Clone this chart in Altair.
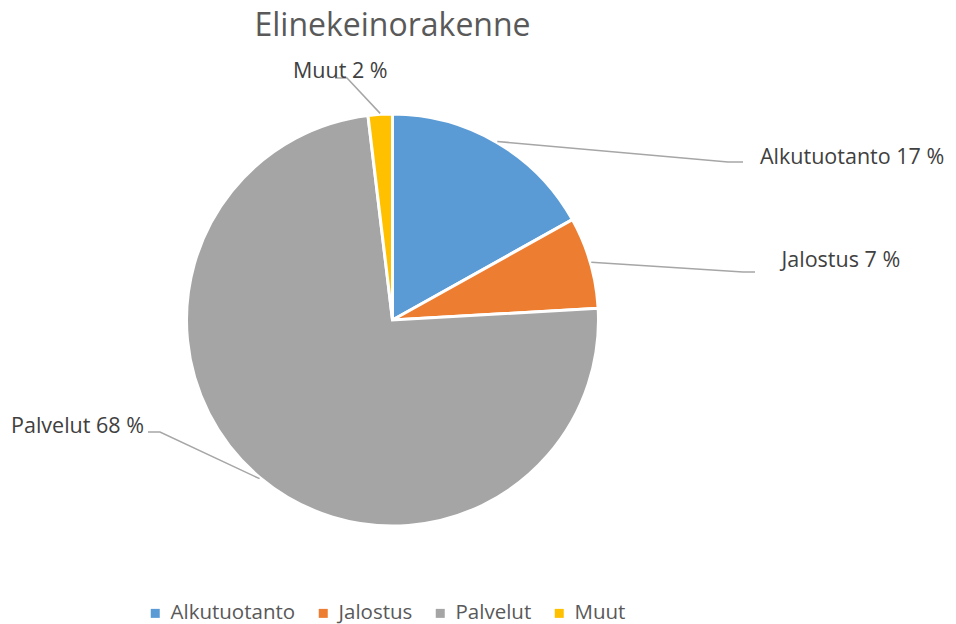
import math
import altair as alt
import pandas as pd

# ---- data ----
categories = ["Alkutuotanto", "Jalostus", "Palvelut", "Muut"]
shares = [16.9, 7.2, 74.0, 1.9]          # slice sizes as drawn (angles)
label_pct = [17, 7, 68, 2]               # percentages printed in the labels
colors = ["#5B9BD5", "#ED7D31", "#A5A5A5", "#FFC000"]
title_text = "Elinekeinorakenne"

# ---- layout (view pixel space) ----
W, H = 940, 608
CX, CY, R = 384.5, 312, 206
label_x = [752, 773.5, 136, 285]
label_y = [156, 259, 425, 70]
label_align = ["left", "left", "right", "left"]
bend_pts = [(720, 154), (735, 264), (152, 424), (339, 70)]
end_pts = [(735, 154), (747, 264), (140, 424), (327, 70)]

pie_df = pd.DataFrame({"category": categories, "share": shares, "idx": range(len(categories))})

# leader lines start at the middle of each slice on the rim
total = sum(shares)
rows = []
cum = 0.0
for i, (c, s) in enumerate(zip(categories, shares)):
    mid = (cum + s / 2) / total * 2 * math.pi
    cum += s
    sx = CX + (R + 1) * math.sin(mid)
    sy = CY - (R + 1) * math.cos(mid)
    rows.append({"category": c, "step": 0, "px": sx, "py": sy})
    rows.append({"category": c, "step": 1, "px": bend_pts[i][0], "py": bend_pts[i][1]})
    rows.append({"category": c, "step": 2, "px": end_pts[i][0], "py": end_pts[i][1]})
lines_df = pd.DataFrame(rows)

lab_df = pd.DataFrame({
    "category": categories,
    "text": [f"{c} {p} %" for c, p in zip(categories, label_pct)],
    "px": label_x, "py": label_y, "align": label_align,
})

xs = alt.Scale(domain=[0, W], range=[0, W])
ys = alt.Scale(domain=[0, H], range=[0, H])

pie = alt.Chart(pie_df).mark_arc(outerRadius=R, stroke="white", strokeWidth=3).encode(
    theta=alt.Theta("share:Q", stack=True),
    color=alt.Color(
        "category:N",
        sort=categories,
        scale=alt.Scale(domain=categories, range=colors),
        legend=alt.Legend(
            title=None, orient="none", legendX=137, legendY=595,
            direction="horizontal", symbolType="square", symbolSize=81,
            symbolStrokeWidth=0, labelFontSize=20.5, labelFont="Open Sans",
            labelColor="#595959", labelOffset=5, columnPadding=17,
        ),
    ),
    order=alt.Order("idx:Q"),
    x=alt.value(CX),
    y=alt.value(CY),
)

leaders = alt.Chart(lines_df).mark_line(color="#A6A6A6", strokeWidth=1.5).encode(
    x=alt.X("px:Q", scale=xs, axis=None),
    y=alt.Y("py:Q", scale=ys, axis=None),
    detail="category:N",
    order="step:Q",
)

labels_left = alt.Chart(lab_df).transform_filter(alt.datum.align == "left").mark_text(
    align="left", baseline="alphabetic", font="Open Sans", fontSize=21.5, color="#404040"
).encode(
    x=alt.X("px:Q", scale=xs, axis=None),
    y=alt.Y("py:Q", scale=ys, axis=None),
    text="text:N",
)

labels_right = alt.Chart(lab_df).transform_filter(alt.datum.align == "right").mark_text(
    align="right", baseline="alphabetic", font="Open Sans", fontSize=21.5, color="#404040"
).encode(
    x=alt.X("px:Q", scale=xs, axis=None),
    y=alt.Y("py:Q", scale=ys, axis=None),
    text="text:N",
)

title = alt.Chart(pd.DataFrame({"t": [title_text]})).mark_text(
    align="center", baseline="alphabetic", font="Open Sans", fontSize=32, color="#595959"
).encode(
    text="t:N",
    x=alt.value(CX),
    y=alt.value(28),
)

chart = alt.layer(pie, leaders, labels_left, labels_right, title).properties(
    width=W, height=H, padding=0
).configure_view(stroke=None)

chart.save("out.html", embed_options={"renderer": "svg", "actions": False})
